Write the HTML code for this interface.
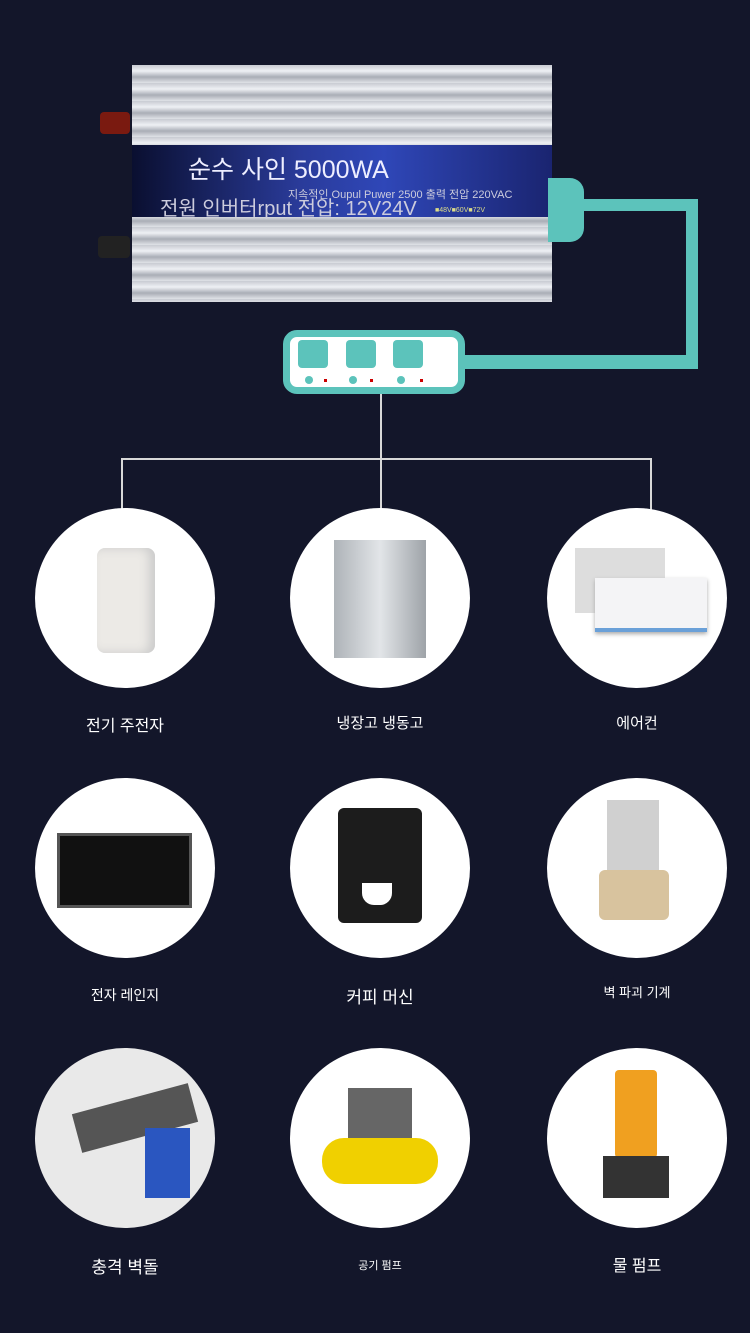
<!DOCTYPE html>
<html><head><meta charset="utf-8"><style>
*{margin:0;padding:0;box-sizing:border-box}
body{width:750px;height:1333px;background:#13162a;position:relative;overflow:hidden;font-family:"Liberation Sans","Noto Sans CJK KR",sans-serif}
.a{position:absolute}
.c{position:absolute;width:180px;height:180px;border-radius:50%;background:#fff;overflow:hidden}
.l{position:absolute;width:200px;text-align:center;color:#fff;font-size:16px}
.ln{position:absolute;background:#d8d8d8}
</style></head><body>
<!-- inverter -->
<div class="a" style="left:100px;top:112px;width:30px;height:22px;background:#7a1a10;border-radius:4px"></div>
<div class="a" style="left:98px;top:236px;width:32px;height:22px;background:#222;border-radius:4px"></div>
<div class="a" style="left:132px;top:65px;width:420px;height:237px;background:repeating-linear-gradient(180deg,#c8cbd2 0,#eef0f4 6px,#a9adb6 12px,#dfe2e7 18px);"></div>
<div class="a" style="left:132px;top:145px;width:420px;height:72px;background:linear-gradient(90deg,#0a0f30,#2a3b9a 40%,#2f47b8 60%,#1a2470)"></div>
<div class="a" style="left:188px;top:150px;color:#eef;font-size:25px">순수 사인 5000WA</div>
<div class="a" style="left:160px;top:192px;color:#ccd;font-size:20px">전원 인버터rput 전압: 12V24V</div>
<div class="a" style="left:288px;top:186px;color:#ccd;font-size:11px">지속적인 Oupul Puwer 2500 출력 전압 220VAC</div>
<div class="a" style="left:435px;top:207px;color:#dd8;font-size:7px">■48V■60V■72V</div>
<!-- cable -->
<div class="a" style="left:548px;top:178px;width:36px;height:64px;background:#5cc3bb;border-radius:0 14px 14px 0"></div>
<div class="a" style="left:584px;top:199px;width:114px;height:12px;background:#5cc3bb"></div>
<div class="a" style="left:686px;top:199px;width:12px;height:170px;background:#5cc3bb"></div>
<div class="a" style="left:460px;top:355px;width:238px;height:14px;background:#5cc3bb"></div>
<!-- strip -->
<div class="a" style="left:283px;top:330px;width:182px;height:64px;background:#fff;border:7px solid #5cc3bb;border-radius:14px"></div>
<div class="a" style="left:298px;top:340px;width:30px;height:28px;background:#5cc3bb;border-radius:4px"></div>
<div class="a" style="left:346px;top:340px;width:30px;height:28px;background:#5cc3bb;border-radius:4px"></div>
<div class="a" style="left:393px;top:340px;width:30px;height:28px;background:#5cc3bb;border-radius:4px"></div>
<div class="a" style="left:305px;top:376px;width:8px;height:8px;background:#5cc3bb;border-radius:50%"></div>
<div class="a" style="left:349px;top:376px;width:8px;height:8px;background:#5cc3bb;border-radius:50%"></div>
<div class="a" style="left:397px;top:376px;width:8px;height:8px;background:#5cc3bb;border-radius:50%"></div>
<div class="a" style="left:324px;top:379px;width:3px;height:3px;background:#c00"></div>
<div class="a" style="left:370px;top:379px;width:3px;height:3px;background:#c00"></div>
<div class="a" style="left:420px;top:379px;width:3px;height:3px;background:#c00"></div>
<!-- lines -->
<div class="ln" style="left:380px;top:394px;width:2px;height:116px"></div>
<div class="ln" style="left:121px;top:458px;width:531px;height:2px"></div>
<div class="ln" style="left:121px;top:458px;width:2px;height:52px"></div>
<div class="ln" style="left:650px;top:458px;width:2px;height:52px"></div>
<!-- row 1 -->
<div class="c" style="left:35px;top:508px"><div class="a" style="left:62px;top:40px;width:58px;height:105px;background:#eceae6;border-radius:8px;box-shadow:inset -6px 0 10px #ccc"></div></div>
<div class="c" style="left:290px;top:508px"><div class="a" style="left:44px;top:32px;width:92px;height:118px;background:linear-gradient(90deg,#aeb3b8,#e2e5e8,#9ea3a8)"></div></div>
<div class="c" style="left:547px;top:508px"><div class="a" style="left:28px;top:40px;width:90px;height:65px;background:#ddd"></div><div class="a" style="left:48px;top:70px;width:112px;height:54px;background:#f4f4f6;border-bottom:4px solid #6aa0d8;box-shadow:0 2px 4px #aaa"></div></div>
<div class="l" style="left:25px;top:712px">전기 주전자</div>
<div class="l" style="left:280px;top:712px;font-size:15px">냉장고 냉동고</div>
<div class="l" style="left:537px;top:712px;font-size:15px">에어컨</div>
<!-- row 2 -->
<div class="c" style="left:35px;top:778px"><div class="a" style="left:22px;top:55px;width:135px;height:75px;background:#111;border:3px solid #555"></div></div>
<div class="c" style="left:290px;top:778px"><div class="a" style="left:48px;top:30px;width:84px;height:115px;background:#1c1c1c;border-radius:6px"></div><div class="a" style="left:72px;top:105px;width:30px;height:22px;background:#fff;border-radius:0 0 12px 12px"></div></div>
<div class="c" style="left:547px;top:778px"><div class="a" style="left:60px;top:22px;width:52px;height:70px;background:rgba(120,120,120,.35)"></div><div class="a" style="left:52px;top:92px;width:70px;height:50px;background:#d8c39e;border-radius:6px"></div></div>
<div class="l" style="left:25px;top:985px;font-size:14px">전자 레인지</div>
<div class="l" style="left:280px;top:983px;font-size:17px">커피 머신</div>
<div class="l" style="left:537px;top:982px;font-size:13px">벽 파괴 기계</div>
<!-- row 3 -->
<div class="c" style="left:35px;top:1048px;background:#e9e9e9"><div class="a" style="left:40px;top:50px;width:120px;height:40px;background:#555;transform:rotate(-15deg)"></div><div class="a" style="left:110px;top:80px;width:45px;height:70px;background:#2a56c0"></div></div>
<div class="c" style="left:290px;top:1048px"><div class="a" style="left:32px;top:90px;width:116px;height:46px;background:#f0d000;border-radius:22px"></div><div class="a" style="left:58px;top:40px;width:64px;height:50px;background:#666"></div></div>
<div class="c" style="left:547px;top:1048px"><div class="a" style="left:68px;top:22px;width:42px;height:88px;background:#f0a020;border-radius:4px"></div><div class="a" style="left:56px;top:108px;width:66px;height:42px;background:#333"></div></div>
<div class="l" style="left:25px;top:1253px;font-size:17px">충격 벽돌</div>
<div class="l" style="left:280px;top:1257px;font-size:11px">공기 펌프</div>
<div class="l" style="left:537px;top:1252px;font-size:16px">물 펌프</div>
</body></html>
